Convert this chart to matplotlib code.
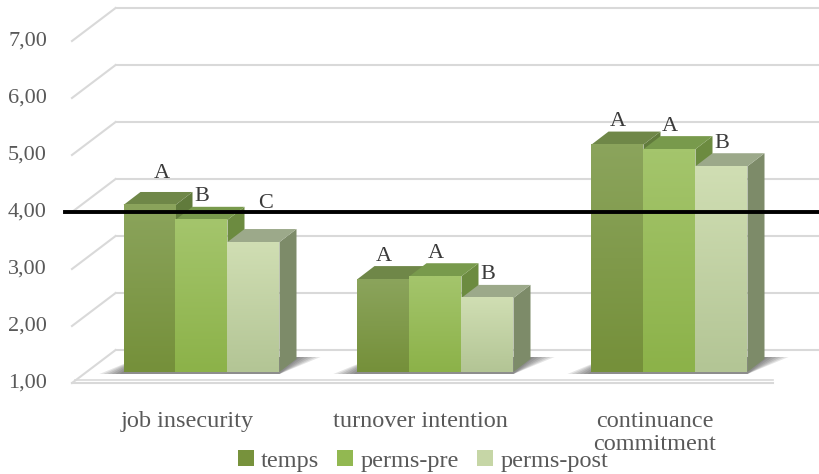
import numpy as np
import matplotlib
matplotlib.use("Agg")
import matplotlib.pyplot as plt
from matplotlib.patches import Polygon, Patch
from matplotlib.colors import LinearSegmentedColormap

categories = ["job insecurity", "turnover intention", "continuance\ncommitment"]
series = ["temps", "perms-pre", "perms-post"]

temps = [3.93, 2.63, 4.99]
perms_pre = [3.67, 2.68, 4.91]
perms_post = [3.28, 2.30, 4.61]

letters_temps = ["A", "A", "A"]
letters_pre = ["B", "A", "A"]
letters_post = ["C", "B", "B"]

yticks = [1, 2, 3, 4, 5, 6, 7]
midpoint = 4.0

# pixel sizes of the layout (figure is 820 x 474 at dpi 100)
PXX = 234.0   # pixels per category
PXY = 57.0    # pixels per scale unit
BASE = 1.0

def dx(px):
    return px / PXX

def dy(px):
    return px / PXY

W = dx(52)                        # bar width
BAR_D = (dx(17), dy(13))          # depth of a bar
WALL_D = (dx(29), dy(22))         # bar front plane -> back wall
FRONT_D = (dx(-14.6), dy(-11))    # bar front plane -> front edge of floor
LEFT_EDGE = dx(72 - 201.5)
RIGHT_EDGE = dx(773 - 201.5)

GRID = "#d9d9d9"
TXT = "#595959"
FONT = "Liberation Serif"

front_cols = [("#8ba45c", "#75903a"), ("#a4c56c", "#8cb249"), ("#d0deb3", "#b3c595")]
top_cols = ["#6f8748", "#789a4c", "#9ca98a"]
side_cols = ["#617b3c", "#6c8b40", "#7d8b69"]
legend_cols = ["#77923c", "#92b851", "#c6d6a6"]

fig = plt.figure(figsize=(8.2, 4.74), dpi=100)
ax = fig.add_axes([0, 0, 1, 1])
xmin, xmax = dx(-201.5), dx(820 - 201.5)
ymin, ymax = 1 - dy(102), 1 + dy(372)
ax.axis("off")

# front edge of the floor slab
ax.plot([LEFT_EDGE, RIGHT_EDGE], [BASE + FRONT_D[1]] * 2, color=GRID, lw=1.5, zorder=1)
ax.plot([LEFT_EDGE + dx(3), RIGHT_EDGE], [BASE + FRONT_D[1] + dy(3.5)] * 2, color=GRID, lw=1.2, zorder=1)

# gridlines on the back wall and the left side
back_left = LEFT_EDGE + WALL_D[0] - FRONT_D[0]
for t in yticks:
    ax.plot([LEFT_EDGE, back_left], [t + FRONT_D[1], t + WALL_D[1]], color=GRID, lw=1.5, zorder=1)
    ax.plot([back_left, xmax + 1], [t + WALL_D[1]] * 2, color=GRID, lw=1.5, zorder=1)
    ax.text(dx(47 - 201.5), t + FRONT_D[1], f"{t:.2f}".replace(".", ","), ha="right", va="center",
            fontsize=16, color=TXT, family=FONT)

values = np.array([temps, perms_pre, perms_post])
letters = [letters_temps, letters_pre, letters_post]
# small nudges (pixels) for a few letters
nudge = {(0, 0): (12, -8), (0, 2): (12, -16)}

z = 3
for ci in range(len(categories)):
    left = ci - 1.5 * W
    right = ci + 1.5 * W
    # soft shadow on the floor
    for k in range(6):
        ext = dx(24 - 4 * k)
        sh = [(left - ext, BASE - dy(2)), (right, BASE - dy(2)),
              (right + BAR_D[0] + ext, BASE + dy(15)), (left + BAR_D[0], BASE + dy(15))]
        ax.add_patch(Polygon(sh, closed=True, facecolor="#3a3a3a", edgecolor="none", alpha=0.13, zorder=2))
    for si in range(len(series)):
        v = values[si, ci]
        x0 = left + si * W
        side = [(x0 + W, BASE), (x0 + W + BAR_D[0], BASE + BAR_D[1]),
                (x0 + W + BAR_D[0], v + BAR_D[1]), (x0 + W, v)]
        ax.add_patch(Polygon(side, closed=True, facecolor=side_cols[si], edgecolor="none", zorder=z))
        top = [(x0, v), (x0 + W, v), (x0 + W + BAR_D[0], v + BAR_D[1]), (x0 + BAR_D[0], v + BAR_D[1])]
        ax.add_patch(Polygon(top, closed=True, facecolor=top_cols[si], edgecolor="none", zorder=z))
        bar = ax.bar(x0, v - BASE, width=W, bottom=BASE, align="edge", color=front_cols[si][1],
                     edgecolor="none", zorder=z + 0.5)
        cmap = LinearSegmentedColormap.from_list("g", [front_cols[si][1], front_cols[si][0]])
        grad = np.linspace(0, 1, 64).reshape(-1, 1)
        ax.imshow(grad, extent=(x0, x0 + W, BASE, v), origin="lower", aspect="auto", cmap=cmap,
                  interpolation="bilinear", zorder=z + 0.6)
        nx, ny = nudge.get((ci, si), (0, 0))
        ax.text(x0 + W / 2 + dx(nx), v + BAR_D[1] + dy(10) - dy(ny), letters[si][ci],
                ha="center", va="center", fontsize=16, color="#3a3a3a", family=FONT, zorder=20)
        z += 1

    ax.text(ci + FRONT_D[0], 1 - dy(411 - 372), categories[ci], ha="center", va="top",
            fontsize=17.5, color=TXT, family=FONT, linespacing=1.15)

# reference line at the scale midpoint
ax.plot([dx(65 - 201.5), xmax + 1], [midpoint + FRONT_D[1]] * 2, color="black", lw=2.8, zorder=15)

handles = [Patch(facecolor=c, edgecolor="none") for c in legend_cols]
ax.legend(handles, series, loc="center", bbox_to_anchor=(423 / 820, 1 - 461 / 474), ncol=3,
          frameon=False, handlelength=0.65, handleheight=0.65, handletextpad=0.3, columnspacing=0.75,
          prop={"family": FONT, "size": 17.5}, labelcolor=TXT, borderpad=0)

ax.set_xlim(xmin, xmax)
ax.set_ylim(ymin, ymax)
fig.savefig("out.png", dpi=100)
